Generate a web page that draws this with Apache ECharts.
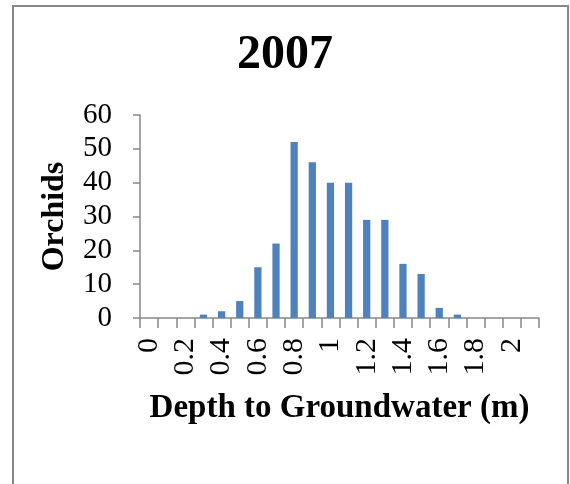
<!DOCTYPE html>
<html>
<head>
<meta charset="utf-8">
<script src="https://cdn.jsdelivr.net/npm/echarts@6/dist/echarts.min.js"></script>
<style>
html,body{margin:0;padding:0;background:#fff;}
#chart{width:570px;height:484px;}
</style>
</head>
<body>
<div id="chart"></div>
<script>
var categories = ["0","0.1","0.2","0.3","0.4","0.5","0.6","0.7","0.8","0.9","1","1.1","1.2","1.3","1.4","1.5","1.6","1.7","1.8","1.9","2","2.1"];
var orchids = [0,0,0,1,2,5,15,22,52,46,40,40,29,29,16,13,3,1,0,0,0,0];
var yTicks = {min:0, max:60, interval:10};

var serif = '"Liberation Serif","Times New Roman",Times,serif';
var chart = echarts.init(document.getElementById('chart'));
chart.setOption({
  animation:false,
  backgroundColor:'#fff',
  title:{
    text:'2007', left:'center', top:27,
    textStyle:{fontFamily:serif, fontWeight:'bold', fontSize:48, color:'#000'}
  },
  graphic:[{
    type:'polyline', silent:true,
    shape:{points:[[13,500],[13,6],[568,6],[568,500]]},
    style:{stroke:'#888', lineWidth:2, fill:null}
  }],
  grid:{left:140, right:31, top:115, bottom:166, containLabel:false},
  xAxis:{
    type:'category', data:categories, boundaryGap:true,
    name:'Depth to Groundwater (m)', nameLocation:'middle', nameGap:74,
    nameTextStyle:{fontFamily:serif, fontWeight:'bold', fontSize:33, color:'#000'},
    axisLine:{lineStyle:{color:'#888', width:1.5}},
    axisTick:{show:true, interval:0, length:10, alignWithLabel:false, lineStyle:{color:'#888', width:1.5}},
    axisLabel:{interval:1, rotate:90, margin:20, fontFamily:serif, fontSize:30, color:'#000'},
    splitLine:{show:false}
  },
  yAxis:{
    type:'value', min:yTicks.min, max:yTicks.max, interval:yTicks.interval,
    name:'Orchids', nameLocation:'middle', nameGap:69, nameRotate:90,
    nameTextStyle:{fontFamily:serif, fontWeight:'bold', fontSize:32, color:'#000'},
    axisLine:{show:true, lineStyle:{color:'#888', width:1.5}},
    axisTick:{show:true, length:7, lineStyle:{color:'#888', width:1.5}},
    axisLabel:{margin:28, fontFamily:serif, fontSize:29, color:'#000'},
    splitLine:{show:false}
  },
  series:[{
    type:'bar', data:orchids, barWidth:'40%',
    itemStyle:{color:'#4F81BD'}
  }]
});
</script>
</body>
</html>
